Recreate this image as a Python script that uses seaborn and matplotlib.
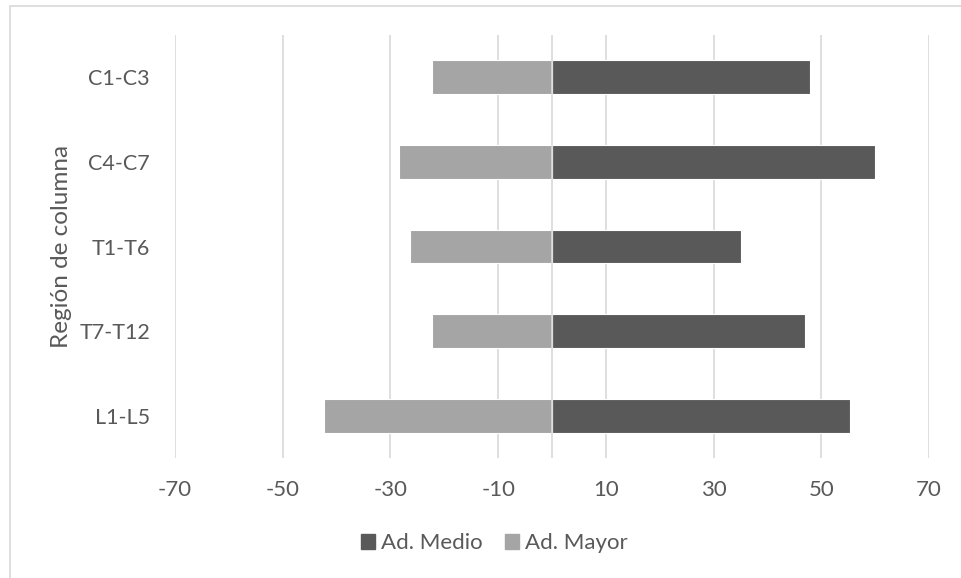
import numpy as np
import pandas as pd
import matplotlib.pyplot as plt
import seaborn as sns
from matplotlib.patches import Rectangle

# ============================================================
# Datos
# ============================================================

regiones = ["C1-C3", "C4-C7", "T1-T6", "T7-T12", "L1-L5"]
ad_medio = [47.9, 60.0, 35.1, 47.0, 55.3]
ad_mayor = [-22.2, -28.5, -26.4, -22.2, -42.3]
grupos = ["Ad. Medio", "Ad. Mayor"]
ticks_x = [-70, -50, -30, -10, 10, 30, 50, 70]

colores = {"Ad. Medio": "#595959", "Ad. Mayor": "#A5A5A5"}
gris_texto = "#595959"
gris_linea = "#D9D9D9"

df = pd.DataFrame({
    "Región": regiones * 2,
    "Valor": ad_medio + ad_mayor,
    "Grupo": [grupos[0]] * len(regiones) + [grupos[1]] * len(regiones),
})

# ============================================================
# Gráfico
# ============================================================

sns.set_style("white")
plt.rcParams["font.family"] = ["Lato", "DejaVu Sans"]

fig = plt.figure(figsize=(9.61, 5.78), dpi=100)
ax = fig.add_axes([175 / 961, 1 - 458 / 578, (929 - 175) / 961, (458 - 35) / 578])

# borde del área del gráfico (estilo Excel)
fig.add_artist(Rectangle((10 / 961, -0.1), 1.2, 1 - 6 / 578 + 0.1,
                         transform=fig.transFigure, fill=False,
                         edgecolor=gris_linea, lw=1.2))

for t in ticks_x:
    ax.axvline(t, color=gris_linea, lw=1.2, zorder=0)

sns.barplot(data=df, y="Región", x="Valor", hue="Grupo", order=regiones,
            hue_order=grupos, palette=colores, dodge=False, width=0.4,
            orient="h", edgecolor="white", linewidth=0.8, ax=ax, zorder=2)

ax.axvline(0, color=gris_linea, lw=1.2, zorder=3)

ax.set_xlim(-70, 70)
ax.set_ylim(len(regiones) - 0.5, -0.5)
ax.set_xticks(ticks_x)
ax.set_xticklabels([str(t) for t in ticks_x])
ax.tick_params(axis="x", length=0, pad=16, labelsize=16, colors=gris_texto)
ax.tick_params(axis="y", length=0, pad=18, labelsize=15.5, colors=gris_texto)
ax.set_xlabel("")
ax.set_ylabel("Región de columna", fontsize=17.5, color=gris_texto)
ax.yaxis.set_label_coords(-(175 - 61) / 754, 0.5)
ax.yaxis.label.set_verticalalignment("center")

for s in ax.spines.values():
    s.set_visible(False)

ax.get_legend().remove()
handles = [plt.Rectangle((0, 0), 1, 1, color=colores[g]) for g in grupos]
fig.legend(handles, grupos, loc="center", bbox_to_anchor=(494 / 961, 1 - 543 / 578),
           ncol=2, frameon=False, fontsize=16, handlelength=0.65, handleheight=0.65,
           handletextpad=0.25, columnspacing=1.0, labelcolor=gris_texto)

plt.savefig("out.png", dpi=100)
plt.close()
